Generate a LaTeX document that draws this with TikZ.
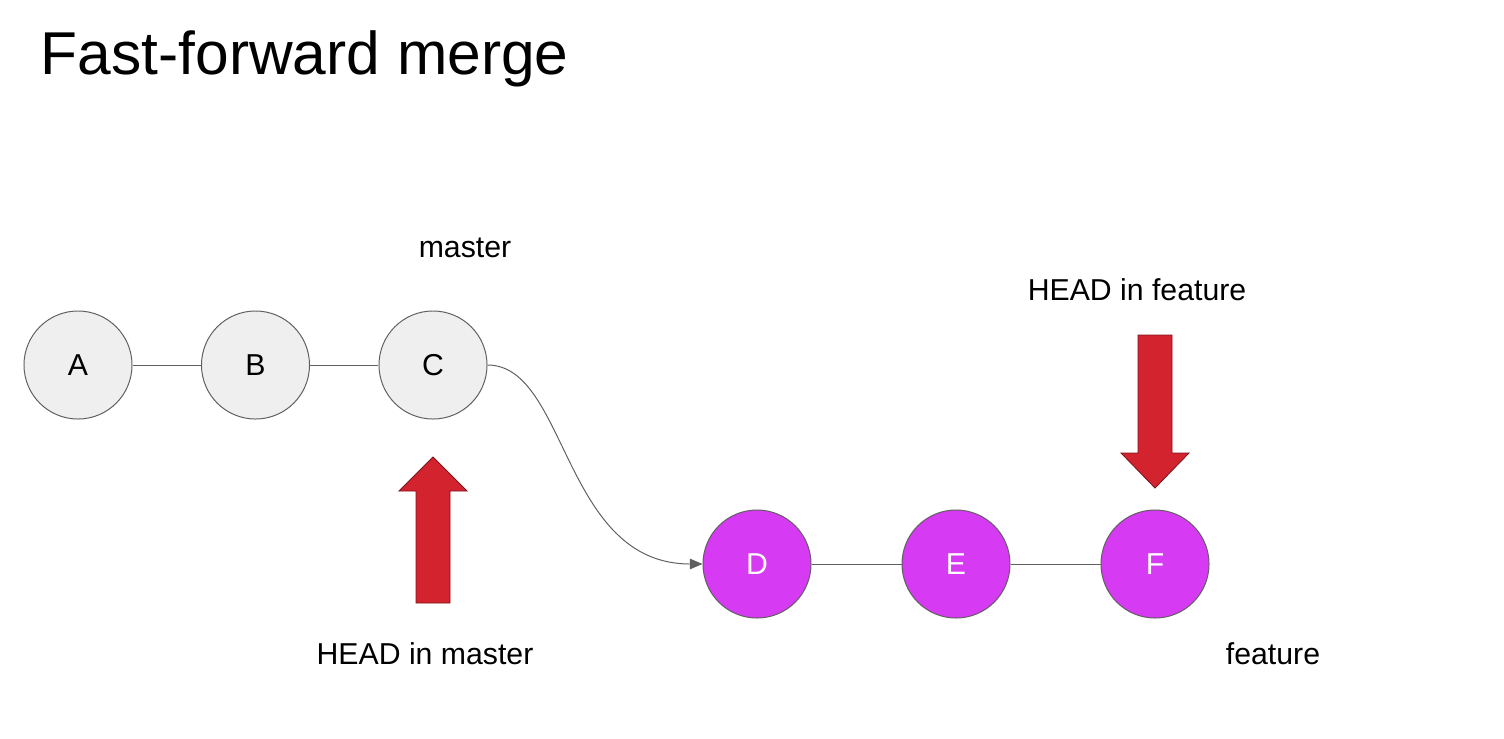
\documentclass[tikz,border=0pt]{standalone}
\usepackage{fontspec}
\setmainfont{Liberation Sans}
\usetikzlibrary{arrows.meta}
\usetikzlibrary{positioning}

\definecolor{commitgray}{HTML}{EFEFEF}
\definecolor{featurepink}{HTML}{D63AF2}
\definecolor{headred}{HTML}{D3232F}
\definecolor{edgegray}{HTML}{5F5F5F}

\tikzset{
  commit/.style={circle,draw=edgegray,line width=0.7pt,minimum size=2.7cm,
    inner sep=0pt,font=\fontsize{21.5}{26}\selectfont},
  master commit/.style={commit,fill=commitgray,text=black},
  feature commit/.style={commit,fill=featurepink,text=white},
  link/.style={draw=edgegray,line width=0.7pt},
  reftext/.style={font=\fontsize{21.5}{26}\selectfont,anchor=base},
}

% x, tail y, head base y, tip y
\newcommand\headarrow[4]{
  \filldraw[fill=headred,draw=headred!60!black,line width=0.6pt]
    (#1-17,#2) -- (#1-17,#3) -- (#1-34,#3) -- (#1,#4)
    -- (#1+34,#3) -- (#1+17,#3) -- (#1+17,#2) -- cycle;
}

\begin{document}
\begin{tikzpicture}[x=0.025cm,y=-0.025cm]
  %
  \useasboundingbox (0,0) rectangle (1504,738);

  \node[anchor=base west,font=\fontsize{43}{50}\selectfont] (title) at (36,74) {Fast-forward merge};

  \foreach \name [count=\i] in {A,B,C} {
    \node[master commit] (\name) at (78+177.5*\i-177.5,365) {\name};
  }

  \foreach \name [count=\i] in {D,E,F} {
    \node[feature commit] (\name) at (757+199*\i-199,564) {\name};
  }

  \draw[link] (A) -- (B);
  \draw[link] (B) -- (C);
  \draw[link] (D) -- (E);
  \draw[link] (E) -- (F);
  \draw[link,-{Triangle[length=9pt,width=7.5pt]}]
    (C.east) to[out=0,in=180,out distance=2cm,in distance=3.5cm] (D.west);

  \node[reftext] (master) at (465,257) {master};
  \node[reftext] (headfeature) at (1137,300) {HEAD in feature};
  \node[reftext] (headmaster) at (425,664) {HEAD in master};
  \node[reftext] (feature) at (1273,664) {feature};

  \headarrow{433}{603}{491}{457}
  \headarrow{1155}{335}{453}{488}

\end{tikzpicture}
\end{document}
